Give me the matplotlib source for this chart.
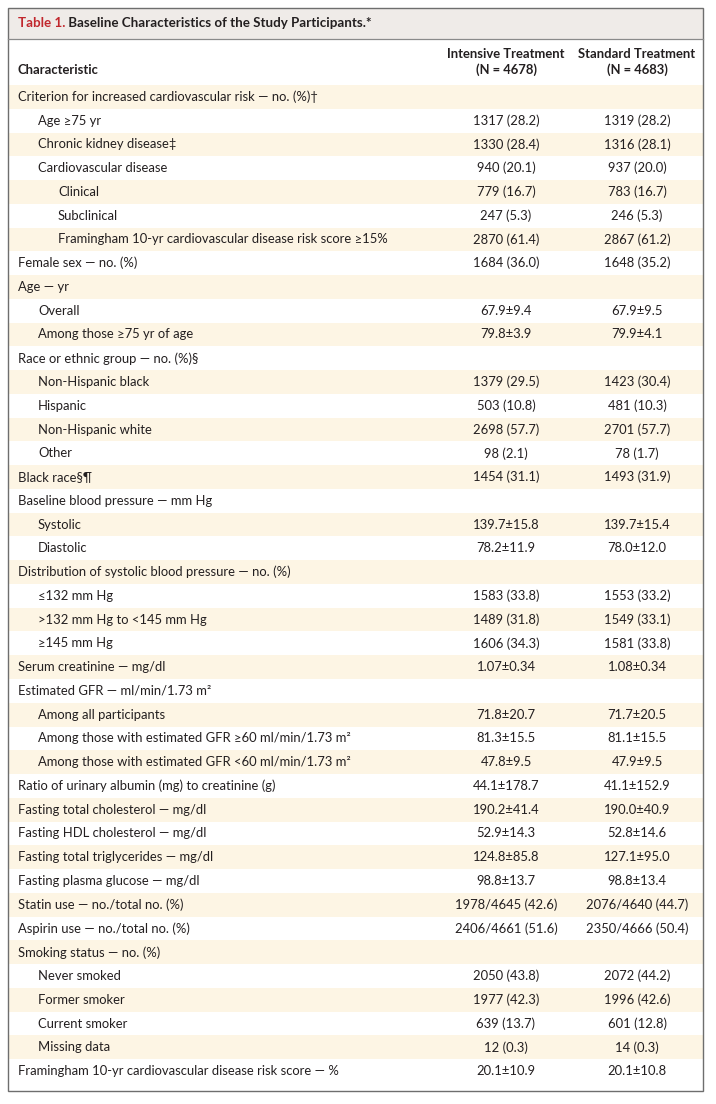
import matplotlib
matplotlib.use("Agg")
import matplotlib.pyplot as plt
import matplotlib.patches as mpatches

FONT = ["Lato", "DejaVu Sans"]
plt.rcParams["font.family"] = FONT

title_prefix = "Table 1."
title_rest = " Baseline Characteristics of the Study Participants.*"
col_headers = [("Intensive Treatment", "(N = 4678)"), ("Standard Treatment", "(N = 4683)")]

labels = [
    "Criterion for increased cardiovascular risk — no. (%)†",
    "Age ≥75 yr",
    "Chronic kidney disease‡",
    "Cardiovascular disease",
    "Clinical",
    "Subclinical",
    "Framingham 10-yr cardiovascular disease risk score ≥15%",
    "Female sex — no. (%)",
    "Age — yr",
    "Overall",
    "Among those ≥75 yr of age",
    "Race or ethnic group — no. (%)§",
    "Non-Hispanic black",
    "Hispanic",
    "Non-Hispanic white",
    "Other",
    "Black race§¶",
    "Baseline blood pressure — mm Hg",
    "Systolic",
    "Diastolic",
    "Distribution of systolic blood pressure — no. (%)",
    "≤132 mm Hg",
    ">132 mm Hg to <145 mm Hg",
    "≥145 mm Hg",
    "Serum creatinine — mg/dl",
    "Estimated GFR — ml/min/1.73 m²",
    "Among all participants",
    "Among those with estimated GFR ≥60 ml/min/1.73 m²",
    "Among those with estimated GFR <60 ml/min/1.73 m²",
    "Ratio of urinary albumin (mg) to creatinine (g)",
    "Fasting total cholesterol — mg/dl",
    "Fasting HDL cholesterol — mg/dl",
    "Fasting total triglycerides — mg/dl",
    "Fasting plasma glucose — mg/dl",
    "Statin use — no./total no. (%)",
    "Aspirin use — no./total no. (%)",
    "Smoking status — no. (%)",
    "Never smoked",
    "Former smoker",
    "Current smoker",
    "Missing data",
    "Framingham 10-yr cardiovascular disease risk score — %",
]

levels = [0, 1, 1, 1, 2, 2, 2, 0, 0, 1, 1, 0, 1, 1, 1, 1, 0, 0, 1, 1, 0, 1, 1, 1,
          0, 0, 1, 1, 1, 0, 0, 0, 0, 0, 0, 0, 0, 1, 1, 1, 1, 0]

intensive = [
    "", "1317 (28.2)", "1330 (28.4)", "940 (20.1)", "779 (16.7)", "247 (5.3)",
    "2870 (61.4)", "1684 (36.0)", "", "67.9±9.4", "79.8±3.9", "", "1379 (29.5)",
    "503 (10.8)", "2698 (57.7)", "98 (2.1)", "1454 (31.1)", "", "139.7±15.8",
    "78.2±11.9", "", "1583 (33.8)", "1489 (31.8)", "1606 (34.3)", "1.07±0.34", "",
    "71.8±20.7", "81.3±15.5", "47.8±9.5", "44.1±178.7", "190.2±41.4", "52.9±14.3",
    "124.8±85.8", "98.8±13.7", "1978/4645 (42.6)", "2406/4661 (51.6)", "",
    "2050 (43.8)", "1977 (42.3)", "639 (13.7)", "12 (0.3)", "20.1±10.9",
]

standard = [
    "", "1319 (28.2)", "1316 (28.1)", "937 (20.0)", "783 (16.7)", "246 (5.3)",
    "2867 (61.2)", "1648 (35.2)", "", "67.9±9.5", "79.9±4.1", "", "1423 (30.4)",
    "481 (10.3)", "2701 (57.7)", "78 (1.7)", "1493 (31.9)", "", "139.7±15.4",
    "78.0±12.0", "", "1553 (33.2)", "1549 (33.1)", "1581 (33.8)", "1.08±0.34", "",
    "71.7±20.5", "81.1±15.5", "47.9±9.5", "41.1±152.9", "190.0±40.9", "52.8±14.6",
    "127.1±95.0", "98.8±13.4", "2076/4640 (44.7)", "2350/4666 (50.4)", "",
    "2072 (44.2)", "1996 (42.6)", "601 (12.8)", "14 (0.3)", "20.1±10.8",
]

W, H = 716, 1104
fig = plt.figure(figsize=(W / 100, H / 100), dpi=100)
ax = fig.add_axes([0, 0, 1, 1])
ax.set_xlim(0, W)
ax.set_ylim(H, 0)
ax.axis("off")

left, right, top, bottom = 7.5, 702.5, 7.5, 1090.5
title_bottom = 39
rows_top = 85
row_h = 23.76
col_x = [506, 637]
indent = [18, 38, 58]
txt = "#231f20"
fs = 9.4

# title band
ax.add_patch(mpatches.Rectangle((left, top), right - left, title_bottom - top,
                                facecolor="#efebe8", edgecolor="none"))
ax.plot([left, right], [title_bottom, title_bottom], color="#8a8a8a", lw=0.9)
t1 = ax.text(18, 23, title_prefix, color="#c1272d", fontsize=9.6, fontweight="bold",
             va="center", ha="left")
fig.canvas.draw()
bb = t1.get_window_extent()
x_after = bb.x1
ax.text(x_after, H - 23, title_rest, color=txt, fontsize=9.6, fontweight="bold",
        va="center", ha="left", transform=None)

# header
ax.text(indent[0], 70, "Characteristic", color=txt, fontsize=fs, fontweight="bold",
        va="center", ha="left")
for cx, (h1, h2) in zip(col_x, col_headers):
    ax.text(cx, 54, h1, color=txt, fontsize=fs, fontweight="bold", va="center", ha="center")
    ax.text(cx, 70, h2, color=txt, fontsize=fs, fontweight="bold", va="center", ha="center")

# body rows
for i, (lab, lev, a, b) in enumerate(zip(labels, levels, intensive, standard)):
    y0 = rows_top + i * row_h
    if i % 2 == 0:
        ax.add_patch(mpatches.Rectangle((left, y0), right - left, row_h,
                                        facecolor="#fdf5e4", edgecolor="none"))
    yc = y0 + row_h / 2
    ax.text(indent[lev], yc, lab, color=txt, fontsize=fs, va="center", ha="left")
    ax.text(col_x[0], yc, a, color=txt, fontsize=fs, va="center", ha="center")
    ax.text(col_x[1], yc, b, color=txt, fontsize=fs, va="center", ha="center")

# outer frame
ax.add_patch(mpatches.Rectangle((left, top), right - left, bottom - top,
                                facecolor="none", edgecolor="#6e6e6e", lw=1.0))

fig.savefig("out.png", dpi=100, facecolor="white")
